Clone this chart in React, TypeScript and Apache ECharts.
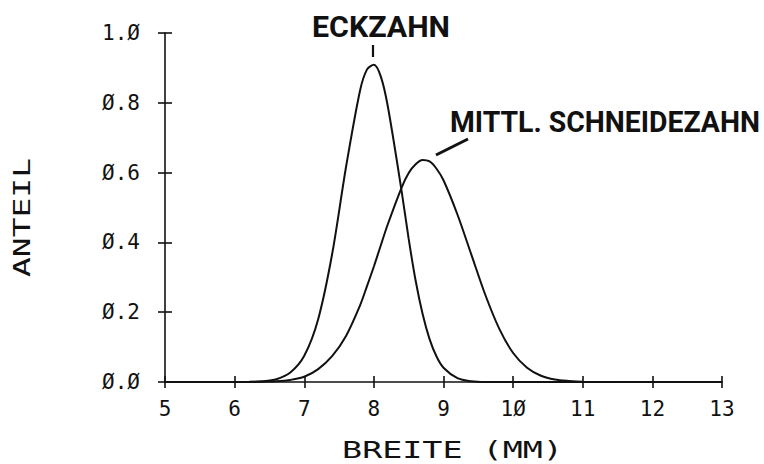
import React, { useEffect, useRef } from "react";
import * as echarts from "echarts";

const widths = [5.0, 6.0, 6.2, 6.4, 6.6, 6.8, 7.0, 7.2, 7.4, 7.6, 7.8, 7.9, 8.0, 8.1, 8.2, 8.4, 8.5, 8.6, 8.7, 8.8, 8.9, 9.0, 9.2, 9.4, 9.6, 9.8, 10.0, 10.2, 10.4, 10.6, 10.8, 11.0, 12.0, 13.0];
// Anteil, Eckzahn
const eckzahn = [0, 0, 0.0003, 0.002, 0.008, 0.027, 0.075, 0.18, 0.366, 0.616, 0.834, 0.895, 0.909, 0.875, 0.79, 0.545, 0.41, 0.29, 0.195, 0.123, 0.073, 0.041, 0.011, 0.002, 0, 0, 0, 0, 0, 0, 0, 0, 0, 0];
// Anteil, mittlerer Schneidezahn
const schneidezahn = [0, 0, 0, 0.001, 0.002, 0.006, 0.015, 0.037, 0.074, 0.132, 0.219, 0.274, 0.331, 0.392, 0.452, 0.558, 0.599, 0.624, 0.636, 0.632, 0.611, 0.578, 0.48, 0.365, 0.25, 0.153, 0.083, 0.041, 0.018, 0.007, 0.003, 0.001, 0, 0];

const xTicks = [5, 6, 7, 8, 9, 10, 11, 12, 13];
const yTicks = [0, 0.2, 0.4, 0.6, 0.8, 1.0];

const xTitle = "BREITE (MM)";
const yTitle = "ANTEIL";
const labelEck = "ECKZAHN";
const labelSchn = "MITTL. SCHNEIDEZAHN";

const MONO = "'DejaVu Sans Mono', 'Liberation Mono', monospace";
const SANS = "Roboto, 'Noto Sans', sans-serif";

function measure(text: string, font: string): number {
  const c = document.createElement("canvas");
  const ctx = c.getContext("2d");
  if (!ctx) return text.length * 10;
  ctx.font = font;
  return ctx.measureText(text).width;
}

const slashZero = (s: string) => s.replace(/0/g, "\u00d8");

export default function App() {
  const ref = useRef<HTMLDivElement>(null);
  useEffect(() => {
    if (!ref.current) return;
    const chart = echarts.init(ref.current, undefined, { renderer: "svg" });

    const titleSize = 23;
    const wX = measure(xTitle, `${titleSize}px ${MONO}`);
    const wY = measure(yTitle, `${titleSize}px ${MONO}`);
    const annSize = 30;
    const wE = measure(labelEck, `bold ${annSize}px ${SANS}`);
    const wS = measure(labelSchn, `bold ${annSize}px ${SANS}`);

    const eckData = widths.map((x, i) => [x, eckzahn[i]]);
    const schnData = widths.map((x, i) => [x, schneidezahn[i]]);

    const axisCommon = {
      min: 5,
      max: 13,
      interval: 1,
    };

    chart.setOption({
      animation: false,
      backgroundColor: "#ffffff",
      grid: { left: 165, right: 42, top: 33, bottom: 82, containLabel: false },
      xAxis: [
        {
          type: "value",
          ...axisCommon,
          axisLine: { show: true, lineStyle: { color: "#111", width: 1.6 } },
          axisTick: { show: true, inside: false, length: 6, lineStyle: { color: "#111", width: 1.6 } },
          axisLabel: {
            show: true,
            margin: 16,
            fontFamily: MONO,
            fontSize: 21,
            color: "#111",
            formatter: (v: number) => (xTicks.includes(v) ? slashZero(String(v)) : ""),
          },
          splitLine: { show: false },
        },
        {
          type: "value",
          ...axisCommon,
          position: "bottom",
          offset: 0,
          axisLine: { show: false },
          axisTick: { show: true, inside: true, length: 6, lineStyle: { color: "#111", width: 1.6 } },
          axisLabel: { show: false },
          splitLine: { show: false },
        },
      ],
      yAxis: [
        {
          type: "value",
          min: 0,
          max: 1,
          interval: 0.2,
          axisLine: { show: true, lineStyle: { color: "#111", width: 1.6 } },
          axisTick: { show: true, inside: false, length: 7, lineStyle: { color: "#111", width: 1.6 } },
          axisLabel: {
            show: true,
            margin: 25,
            fontFamily: MONO,
            fontSize: 21,
            color: "#111",
            formatter: (v: number) => {
              const t = yTicks.find((k) => Math.abs(k - v) < 1e-6);
              return t === undefined ? "" : slashZero(t.toFixed(1));
            },
          },
          splitLine: { show: false },
        },
        {
          type: "value",
          min: 0,
          max: 1,
          interval: 0.2,
          position: "left",
          offset: 0,
          axisLine: { show: false },
          axisTick: { show: true, inside: true, length: 7, lineStyle: { color: "#111", width: 1.6 } },
          axisLabel: { show: false },
          splitLine: { show: false },
        },
      ],
      series: [
        {
          name: labelEck,
          type: "line",
          data: eckData,
          smooth: 0.3,
          showSymbol: false,
          lineStyle: { color: "#111", width: 2 },
          xAxisIndex: 0,
          yAxisIndex: 0,
        },
        {
          name: labelSchn,
          type: "line",
          data: schnData,
          smooth: 0.3,
          showSymbol: false,
          lineStyle: { color: "#111", width: 2 },
          xAxisIndex: 0,
          yAxisIndex: 0,
        },
      ],
      graphic: [
        {
          type: "text",
          x: 452.5,
          y: 450,
          scaleX: 221 / wX,
          style: {
            text: xTitle,
            x: 0,
            y: 0,
            font: `${titleSize}px ${MONO}`,
            fill: "#111",
            textAlign: "center",
            textVerticalAlign: "middle",
          },
        },
        {
          type: "text",
          x: 22,
          y: 217.5,
          rotation: Math.PI / 2,
          scaleX: 119 / wY,
          style: {
            text: yTitle,
            x: 0,
            y: 0,
            font: `${titleSize}px ${MONO}`,
            fill: "#111",
            textAlign: "center",
            textVerticalAlign: "middle",
          },
        },
        {
          type: "text",
          x: 312,
          y: 27,
          scaleX: 138 / wE,
          style: {
            text: labelEck,
            x: 0,
            y: 0,
            font: `bold ${annSize}px ${SANS}`,
            fill: "#111",
            textAlign: "left",
            textVerticalAlign: "middle",
          },
        },
        {
          type: "line",
          shape: { x1: 373, y1: 45, x2: 373, y2: 57 },
          style: { stroke: "#111", lineWidth: 2.2 },
        },
        {
          type: "text",
          x: 450,
          y: 122,
          scaleX: 310 / wS,
          style: {
            text: labelSchn,
            x: 0,
            y: 0,
            font: `bold ${annSize}px ${SANS}`,
            fill: "#111",
            textAlign: "left",
            textVerticalAlign: "middle",
          },
        },
        {
          type: "line",
          shape: { x1: 436, y1: 155, x2: 468, y2: 139 },
          style: { stroke: "#111", lineWidth: 3 },
        },
      ],
    });
    return () => chart.dispose();
  }, []);
  return <div ref={ref} style={{ width: 764, height: 464, position: "absolute", left: 0, top: 0 }} />;
}
